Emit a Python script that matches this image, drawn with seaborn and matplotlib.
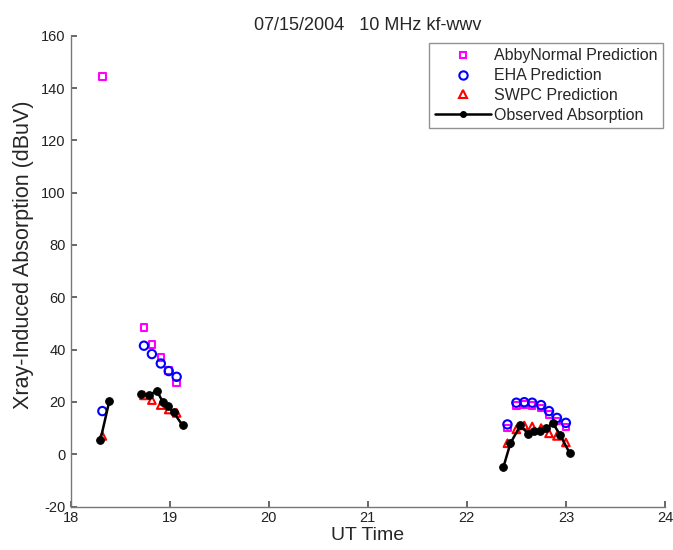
import matplotlib
matplotlib.use("Agg")
import matplotlib.pyplot as plt
from matplotlib.lines import Line2D
import numpy as np
import pandas as pd
import seaborn as sns

sns.set_theme(style="white")
plt.rcParams["font.family"] = ["Liberation Sans", "DejaVu Sans"]
plt.rcParams["axes.unicode_minus"] = False

# --- predictions (UT hour, dBuV) ---
pred_time = [18.32, 18.74, 18.82, 18.91, 18.99, 19.07,
             22.41, 22.50, 22.58, 22.66, 22.75, 22.83, 22.91, 23.00]
abby_vals = [144.5, 48.4, 42.0, 37.0, 32.0, 27.3,
             10.0, 18.6, 19.0, 18.7, 17.6, 15.2, 12.7, 10.4]
eha_vals = [16.5, 41.5, 38.3, 34.7, 31.8, 29.6,
            11.4, 19.7, 19.9, 19.7, 18.8, 16.5, 13.9, 12.0]
swpc_vals = [7.0, 22.5, 20.7, 18.8, 17.1, 15.8,
             4.2, 9.5, 11.0, 10.6, 10.0, 8.0, 7.0, 4.5]

# --- observed absorption, three separate runs ---
obs_time = [18.30, 18.39,
            18.71, 18.79, 18.87, 18.93, 18.98, 19.04, 19.13,
            22.37, 22.44, 22.54, 22.62, 22.68, 22.74, 22.80, 22.87, 22.94, 23.04]
obs_vals = [5.4, 20.3,
            23.0, 22.5, 24.3, 20.0, 18.4, 16.0, 11.0,
            -4.8, 4.2, 11.0, 7.8, 9.0, 8.8, 10.0, 11.8, 7.5, 0.3]
obs_run = [0, 0,
           1, 1, 1, 1, 1, 1, 1,
           2, 2, 2, 2, 2, 2, 2, 2, 2, 2]

MAGENTA = "#ff00ff"
BLUE = "#0000ff"
RED = "#ff0000"

fig = plt.figure(figsize=(6.73, 5.5), dpi=100)
ax = fig.add_axes([0.105, 0.079, 0.883, 0.856])

sns.scatterplot(x=pred_time, y=abby_vals, marker="s", s=22, facecolor="none",
                edgecolor=MAGENTA, linewidth=1.5, ax=ax, zorder=3)
sns.scatterplot(x=pred_time, y=eha_vals, marker="o", s=36, facecolor="none",
                edgecolor=BLUE, linewidth=1.5, ax=ax, zorder=3)
sns.scatterplot(x=pred_time, y=swpc_vals, marker="^", s=30, facecolor="none",
                edgecolor=RED, linewidth=1.5, ax=ax, zorder=3)

obs = pd.DataFrame({"t": obs_time, "v": obs_vals, "run": obs_run})
sns.lineplot(data=obs, x="t", y="v", units="run", estimator=None, sort=False,
             color="black", linewidth=1.8, marker="o", markersize=5.5,
             markeredgecolor="black", ax=ax, zorder=4)

ax.set_xlim(18, 24)
ax.set_ylim(-20, 160)
ax.set_xticks(np.arange(18, 25, 1))
ax.set_yticks(np.arange(-20, 161, 20))
ax.tick_params(axis="both", labelsize=10.5, colors="#555555", length=4,
               direction="in", left=True, bottom=True)
for lbl in ax.get_xticklabels() + ax.get_yticklabels():
    lbl.set_color("#222222")
for side in ["top", "right"]:
    ax.spines[side].set_visible(False)
for side in ["left", "bottom"]:
    ax.spines[side].set_color("#777777")
    ax.spines[side].set_linewidth(1.0)

ax.set_xlabel("UT Time", fontsize=14, labelpad=1)
ax.set_ylabel("Xray-Induced Absorption (dBuV)", fontsize=15.5)
ax.yaxis.set_label_coords(-0.062, 0.535)
ax.set_title("07/15/2004   10 MHz kf-wwv", fontsize=13, pad=4)

handles = [
    Line2D([], [], linestyle="none", marker="s", markersize=5,
           markerfacecolor="none", markeredgecolor=MAGENTA, markeredgewidth=1.5),
    Line2D([], [], linestyle="none", marker="o", markersize=6,
           markerfacecolor="none", markeredgecolor=BLUE, markeredgewidth=1.5),
    Line2D([], [], linestyle="none", marker="^", markersize=6,
           markerfacecolor="none", markeredgecolor=RED, markeredgewidth=1.5),
    Line2D([], [], color="black", linewidth=1.8, marker="o", markersize=4),
]
labels = ["AbbyNormal Prediction", "EHA Prediction", "SWPC Prediction",
          "Observed Absorption"]
leg = ax.legend(handles, labels, loc="upper right", bbox_to_anchor=(0.997, 0.985),
                fontsize=11.5, frameon=True, fancybox=False, borderpad=0.35,
                labelspacing=0.3, handlelength=3.5, handletextpad=0.2,
                borderaxespad=0.0)
leg.get_frame().set_edgecolor("#777777")
leg.get_frame().set_linewidth(1.0)

fig.savefig("out.png", dpi=100)
